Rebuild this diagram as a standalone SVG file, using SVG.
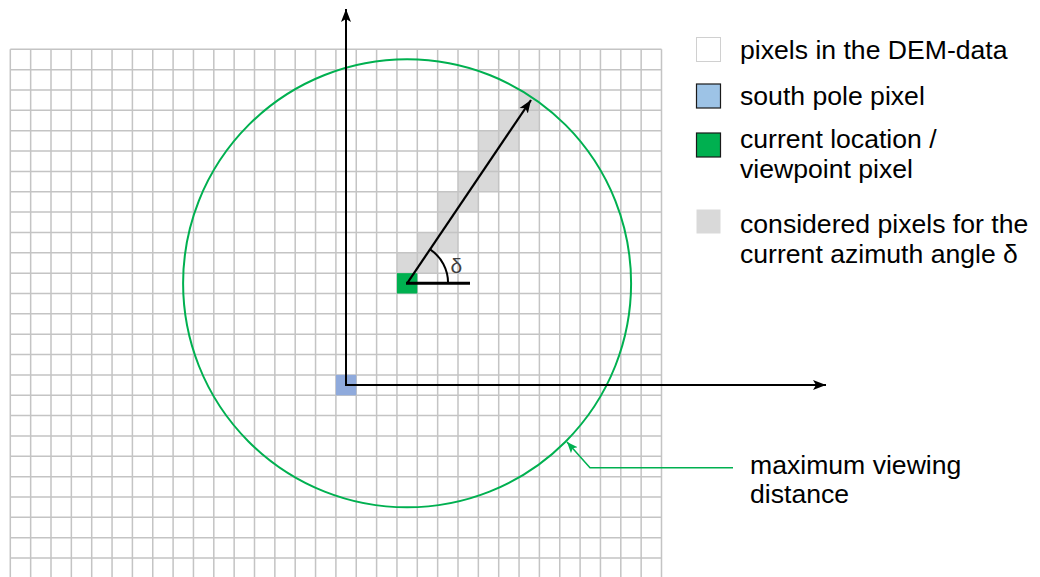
<svg xmlns="http://www.w3.org/2000/svg" width="1040" height="577" viewBox="0 0 1040 577">
<style>
.grid{fill:none;stroke:#c4c4c4;stroke-width:1.5}
.gcell{fill:#d9d9d9}
.axis{fill:none;stroke:#000;stroke-width:2}
.txt{font-family:"Liberation Sans",Arial,sans-serif;font-size:26.6px;fill:#000}
.green{fill:none;stroke:#00b050;stroke-width:2}
</style>
<defs>
<marker id="ah" markerUnits="userSpaceOnUse" markerWidth="14" markerHeight="12" viewBox="0 0 14 12" refX="13" refY="6" orient="auto">
<path d="M0,1 L13,6 L0,11 L3,6 Z" fill="#000"/>
</marker>
<marker id="ahg" markerUnits="userSpaceOnUse" markerWidth="12" markerHeight="10" viewBox="0 0 12 10" refX="11" refY="5" orient="auto">
<path d="M0,0.5 L11,5 L0,9.5 L2.5,5 Z" fill="#00b050"/>
</marker>
</defs>
<rect width="1040" height="577" fill="#fff"/>
<g id="considered-pixels">
<rect class="gcell" x="519.05" y="90" width="20.35" height="20.35"/>
<rect class="gcell" x="498.7" y="110.35" width="40.7" height="20.35"/>
<rect class="gcell" x="478.35" y="130.7" width="40.7" height="20.35"/>
<rect class="gcell" x="478.35" y="151.05" width="20.35" height="20.35"/>
<rect class="gcell" x="458" y="171.4" width="40.7" height="20.35"/>
<rect class="gcell" x="437.65" y="191.75" width="40.7" height="20.35"/>
<rect class="gcell" x="437.65" y="212.1" width="20.35" height="20.35"/>
<rect class="gcell" x="417.3" y="232.45" width="40.7" height="20.35"/>
<rect class="gcell" x="396.95" y="252.8" width="40.7" height="20.35"/>
</g>
<g id="grid">
<path class="grid" d="M10.3,49.3V577M30.65,49.3V577M51,49.3V577M71.35,49.3V577M91.7,49.3V577M112.05,49.3V577M132.4,49.3V577M152.75,49.3V577M173.1,49.3V577M193.45,49.3V577M213.8,49.3V577M234.15,49.3V577M254.5,49.3V577M274.85,49.3V577M295.2,49.3V577M315.55,49.3V577M335.9,49.3V577M356.25,49.3V577M376.6,49.3V577M396.95,49.3V577M417.3,49.3V577M437.65,49.3V577M458,49.3V577M478.35,49.3V577M498.7,49.3V577M519.05,49.3V577M539.4,49.3V577M559.75,49.3V577M580.1,49.3V577M600.45,49.3V577M620.8,49.3V577M641.15,49.3V577M661.5,49.3V577
M10.3,49.3H661.5M10.3,69.65H661.5M10.3,90H661.5M10.3,110.35H661.5M10.3,130.7H661.5M10.3,151.05H661.5M10.3,171.4H661.5M10.3,191.75H661.5M10.3,212.1H661.5M10.3,232.45H661.5M10.3,252.8H661.5M10.3,273.15H661.5M10.3,293.5H661.5M10.3,313.85H661.5M10.3,334.2H661.5M10.3,354.55H661.5M10.3,374.9H661.5M10.3,395.25H661.5M10.3,415.6H661.5M10.3,435.95H661.5M10.3,456.3H661.5M10.3,476.65H661.5M10.3,497H661.5M10.3,517.35H661.5M10.3,537.7H661.5M10.3,558.05H661.5"/>
</g>
<g id="south-pole-pixel"><rect x="335.9" y="374.9" width="20.35" height="20.35" fill="#8faadc"/></g>
<g id="viewpoint-pixel"><rect x="396.95" y="273.15" width="20.35" height="20.35" fill="#00b050"/></g>
<g id="max-distance-circle"><circle class="green" cx="407.1" cy="283.3" r="224"/></g>
<g id="connectors">
<path class="axis" d="M346,385V9" marker-end="url(#ah)"/>
<path class="axis" d="M345,385H826" marker-end="url(#ah)"/>
<path d="M407.1,283.3L531,100" fill="none" stroke="#000" stroke-width="2.2" marker-end="url(#ah)"/>
<path d="M406,283.3H470" fill="none" stroke="#000" stroke-width="3"/>
<path d="M448.1,283.3A41,41 0 0 0 430.1,249.3" fill="none" stroke="#000" stroke-width="2"/>
<polyline points="733,467.7 590,467.7 567,442" fill="none" stroke="#00b050" stroke-width="1.5" marker-end="url(#ahg)"/>
</g>
<g id="angle-label"><text x="450.5" y="273" font-family="Liberation Sans,Arial,sans-serif" font-size="21" fill="#404040">δ</text></g>
<g id="legend">
<g id="legend-dem"><rect x="696.5" y="37.5" width="24" height="24" fill="#fff" stroke="#d0d0d0" stroke-width="1"/><text class="txt" x="740" y="59">pixels in the DEM-data</text></g>
<g id="legend-south"><rect x="696.5" y="84" width="24" height="24" fill="#9dc3e6" stroke="#1a1a1a" stroke-width="1.2"/><text class="txt" x="740" y="105">south pole pixel</text></g>
<g id="legend-current"><rect x="696.5" y="133" width="24" height="24" fill="#00b050" stroke="#1a1a1a" stroke-width="1.2"/><text class="txt" x="740" y="148">current location /</text><text class="txt" x="740" y="178">viewpoint pixel</text></g>
<g id="legend-considered"><rect x="696.5" y="209.5" width="24" height="24" fill="#d9d9d9"/><text class="txt" x="740" y="233">considered pixels for the</text><text class="txt" x="740" y="263">current azimuth angle δ</text></g>
</g>
<g id="max-distance-label"><text class="txt" x="750" y="474">maximum viewing</text><text class="txt" x="750" y="503">distance</text></g>
</svg>
